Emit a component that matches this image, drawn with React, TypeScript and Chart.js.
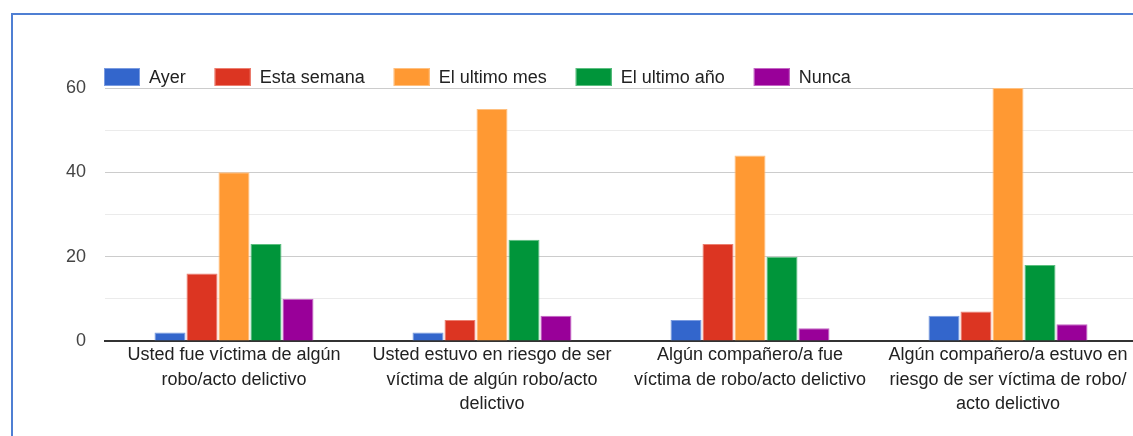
import React, { useEffect, useRef } from "react";
import { Chart, registerables } from "chart.js";

Chart.register(...registerables);

const categories: string[][] = [
  ["Usted fue víctima de algún", "robo/acto delictivo"],
  ["Usted estuvo en riesgo de ser", "víctima de algún robo/acto", "delictivo"],
  ["Algún compañero/a fue", "víctima de robo/acto delictivo"],
  ["Algún compañero/a estuvo en", "riesgo de ser víctima de robo/", "acto delictivo"],
];

const seriesNames = ["Ayer", "Esta semana", "El ultimo mes", "El ultimo año", "Nunca"];
const ayer = [2, 2, 5, 6];
const estaSemana = [16, 5, 23, 7];
const ultimoMes = [40, 55, 44, 60];
const ultimoAnio = [23, 24, 20, 18];
const nunca = [10, 6, 3, 4];
const seriesValues = [ayer, estaSemana, ultimoMes, ultimoAnio, nunca];
const seriesColors = ["#3366cc", "#dc3522", "#ff9933", "#00953a", "#990099"];
const seriesBorders = ["#7a9be0", "#ec7f70", "#ffc080", "#5cbf80", "#c466c4"];

const yMin = 0;
const yMax = 60;
const yStep = 10;
const yLabelStep = 20;

const FONT = '"Liberation Sans", Arial, Helvetica, sans-serif';

const legendPlugin = {
  id: "gLegend",
  afterDraw(chart: any) {
    const ctx = chart.ctx;
    const area = chart.chartArea;
    ctx.save();
    ctx.font = `18px ${FONT}`;
    ctx.textBaseline = "middle";
    ctx.textAlign = "left";
    let x = area.left - 1;
    const boxTop = area.top - 20;
    const boxW = 36;
    const boxH = 18;
    chart.data.datasets.forEach((ds: any) => {
      ctx.fillStyle = ds.backgroundColor;
      ctx.fillRect(x, boxTop, boxW, boxH);
      ctx.strokeStyle = ds.borderColor;
      ctx.lineWidth = 1;
      ctx.strokeRect(x + 0.5, boxTop + 0.5, boxW - 1, boxH - 1);
      ctx.fillStyle = "#222222";
      const tx = x + boxW + 9;
      ctx.fillText(ds.label, tx, boxTop + boxH / 2 + 1);
      const w = ctx.measureText(ds.label).width;
      x = tx + w + 29;
    });
    ctx.restore();
  },
};

export default function App() {
  const ref = useRef<HTMLCanvasElement | null>(null);
  useEffect(() => {
    if (!ref.current) return;
    const chart = new Chart(ref.current, {
      type: "bar",
      data: {
        labels: categories,
        datasets: seriesNames.map((name, i) => ({
          label: name,
          data: seriesValues[i],
          backgroundColor: seriesColors[i],
          borderColor: seriesBorders[i],
          borderWidth: 1,
          borderSkipped: "start",
          barPercentage: 0.97,
          categoryPercentage: 0.62,
        })),
      },
      options: {
        responsive: false,
        animation: false,
        layout: { padding: { top: 88, left: 66, right: 13, bottom: 15 } },
        plugins: {
          legend: { display: false },
          tooltip: { enabled: false },
        },
        scales: {
          x: {
            grid: { display: false, drawTicks: false },
            border: { display: true, color: "#333333", width: 2 },
            ticks: {
              padding: 2,
              color: "#222222",
              font: { family: FONT, size: 18, lineHeight: 1.36 },
              maxRotation: 0,
              autoSkip: false,
            },
            afterFit: (scale: any) => {
              scale.height = 80;
            },
          },
          y: {
            min: yMin,
            max: yMax,
            grid: {
              drawTicks: false,
              color: (c: any) =>
                c.tick && c.tick.value % yLabelStep === 0 ? "#cccccc" : "#ebebeb",
              lineWidth: 1,
            },
            border: { display: false },
            ticks: {
              stepSize: yStep,
              padding: 19,
              color: "#444444",
              font: { family: FONT, size: 18 },
              callback: (v: any) => (Number(v) % yLabelStep === 0 ? String(v) : ""),
            },
            afterFit: (scale: any) => {
              scale.width = 39;
            },
          },
        },
      },
      plugins: [legendPlugin],
    });
    return () => chart.destroy();
  }, []);

  return (
    <div
      style={{
        position: "absolute",
        left: 0,
        top: 0,
        width: 1133,
        height: 436,
        overflow: "hidden",
        background: "#ffffff",
      }}
    >
      <canvas
        ref={ref}
        width={1150}
        height={436}
        style={{ position: "absolute", left: 0, top: 0, width: 1150, height: 436 }}
      />
      <div
        style={{
          position: "absolute",
          left: 11,
          top: 13,
          width: 1200,
          height: 500,
          borderLeft: "2px solid #4f7fd3",
          borderTop: "2px solid #4f7fd3",
          pointerEvents: "none",
        }}
      />
    </div>
  );
}
